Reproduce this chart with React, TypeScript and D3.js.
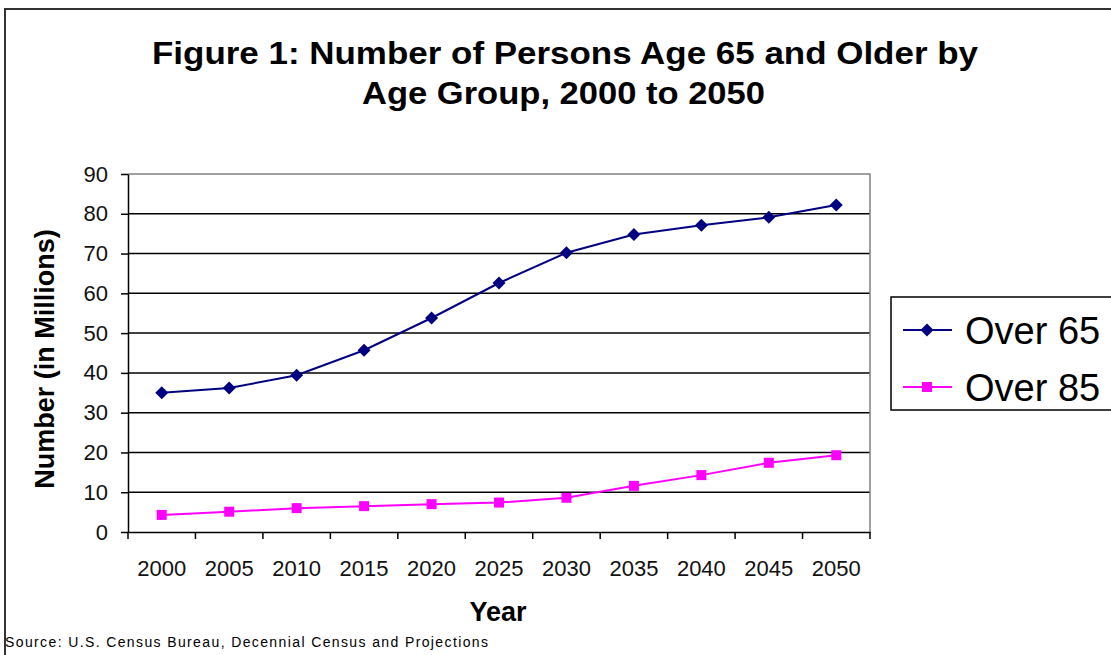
import * as d3 from 'd3';
import { useEffect, useRef } from 'react';

const years = ['2000', '2005', '2010', '2015', '2020', '2025', '2030', '2035', '2040', '2045', '2050'];
const over65 = [35.0, 36.2, 39.4, 45.7, 53.8, 62.6, 70.2, 74.8, 77.1, 79.1, 82.2];
const over85 = [4.3, 5.1, 6.0, 6.5, 7.0, 7.4, 8.6, 11.6, 14.3, 17.4, 19.3];
const yTicks = [0, 10, 20, 30, 40, 50, 60, 70, 80, 90];

const seriesNames = ['Over 65', 'Over 85'];
const seriesColors = ['#000080', '#ff00ff'];

const FONT = '"Liberation Sans", Arial, sans-serif';

export default function App() {
  const ref = useRef<SVGSVGElement | null>(null);

  useEffect(() => {
    if (!ref.current) return;
    const svg = d3.select(ref.current);
    svg.selectAll('*').remove();

    const width = 1111;
    const height = 655;
    const plot = { left: 128, right: 870, top: 174, bottom: 532 };

    svg.append('rect').attr('width', width).attr('height', height).attr('fill', '#fff');

    // outer chart frame (runs off the right and bottom edges)
    svg.append('rect')
      .attr('x', 5).attr('y', 9)
      .attr('width', 1120).attr('height', 670)
      .attr('fill', 'none').attr('stroke', '#333').attr('stroke-width', 2);

    const x = d3.scaleBand<string>().domain(years).range([plot.left, plot.right]).padding(0);
    const y = d3.scaleLinear().domain([0, 90]).range([plot.bottom, plot.top]);
    const cx = (d: string) => x(d)! + x.bandwidth() / 2;

    // gridlines
    svg.append('g')
      .selectAll('line')
      .data(yTicks.filter((t) => t > 0 && t < 90))
      .join('line')
      .attr('x1', plot.left).attr('x2', plot.right)
      .attr('y1', (d) => y(d)).attr('y2', (d) => y(d))
      .attr('stroke', '#000').attr('stroke-width', 1.5);

    // plot area border (top/right gray)
    svg.append('path')
      .attr('d', `M${plot.left},${plot.top}H${plot.right}V${plot.bottom}`)
      .attr('fill', 'none').attr('stroke', '#808080').attr('stroke-width', 1.5);

    // Y axis
    const yAxis = svg.append('g')
      .attr('transform', `translate(${plot.left},0)`)
      .call(d3.axisLeft(y).tickValues(yTicks).tickSize(7).tickPadding(13).tickSizeOuter(0));
    yAxis.select('.domain').attr('stroke', '#000').attr('stroke-width', 1.5);
    yAxis.selectAll('line').attr('stroke', '#000').attr('stroke-width', 1.5);
    yAxis.selectAll('text')
      .style('font-family', FONT).style('font-size', '22px').attr('fill', '#111');

    // X axis: labels centered in each band, ticks on band boundaries
    const xAxis = svg.append('g')
      .attr('transform', `translate(0,${plot.bottom})`)
      .call(d3.axisBottom(x).tickSize(0).tickPadding(28).tickSizeOuter(0));
    xAxis.select('.domain').attr('stroke', '#000').attr('stroke-width', 1.5);
    xAxis.selectAll('text')
      .style('font-family', FONT).style('font-size', '22px').attr('fill', '#111');
    xAxis.selectAll('line.boundary')
      .data([...years.map((d) => x(d)!), plot.right])
      .join('line')
      .attr('class', 'boundary')
      .attr('x1', (d) => d).attr('x2', (d) => d)
      .attr('y1', 0).attr('y2', 7)
      .attr('stroke', '#000').attr('stroke-width', 1.5);

    // series lines + markers
    const line = d3.line<number>().x((_, i) => cx(years[i])).y((d) => y(d));
    [over65, over85].forEach((vals, si) => {
      svg.append('path')
        .datum(vals)
        .attr('d', line)
        .attr('fill', 'none')
        .attr('stroke', seriesColors[si])
        .attr('stroke-width', 2);
    });

    const diamond = (s: number) => `M0,${-s}L${s},0L0,${s}L${-s},0Z`;
    svg.append('g')
      .selectAll('path')
      .data(over65)
      .join('path')
      .attr('transform', (d, i) => `translate(${cx(years[i])},${y(d)})`)
      .attr('d', diamond(6.5))
      .attr('fill', seriesColors[0]);

    svg.append('g')
      .selectAll('rect')
      .data(over85)
      .join('rect')
      .attr('x', (d, i) => cx(years[i]) - 5)
      .attr('y', (d) => y(d) - 5)
      .attr('width', 10).attr('height', 10)
      .attr('fill', seriesColors[1]);

    // title
    const title = svg.append('g')
      .style('font-family', FONT).style('font-weight', 'bold').attr('fill', '#000');
    title.append('text')
      .attr('x', 152).attr('y', 64)
      .attr('textLength', 826).attr('lengthAdjust', 'spacingAndGlyphs')
      .style('font-size', '31px')
      .text('Figure 1: Number of Persons Age 65 and Older by');
    title.append('text')
      .attr('x', 362).attr('y', 104)
      .attr('textLength', 403).attr('lengthAdjust', 'spacingAndGlyphs')
      .style('font-size', '31px')
      .text('Age Group, 2000 to 2050');

    // axis titles
    svg.append('text')
      .attr('transform', 'translate(54,359) rotate(-90)')
      .attr('text-anchor', 'middle')
      .style('font-family', FONT).style('font-weight', 'bold').style('font-size', '27px')
      .text('Number (in Millions)');
    svg.append('text')
      .attr('x', 498).attr('y', 621)
      .attr('text-anchor', 'middle')
      .style('font-family', FONT).style('font-weight', 'bold').style('font-size', '27px')
      .text('Year');

    // legend
    svg.append('rect')
      .attr('x', 891).attr('y', 297)
      .attr('width', 240).attr('height', 113)
      .attr('fill', '#fff').attr('stroke', '#000').attr('stroke-width', 1.5);
    const legendY = [330, 387];
    seriesNames.forEach((name, i) => {
      const g = svg.append('g').attr('transform', `translate(0,${legendY[i]})`);
      g.append('line')
        .attr('x1', 903).attr('x2', 952)
        .attr('stroke', seriesColors[i]).attr('stroke-width', 2);
      if (i === 0) {
        g.append('path').attr('transform', 'translate(927,0)').attr('d', diamond(6.5)).attr('fill', seriesColors[i]);
      } else {
        g.append('rect').attr('x', 922).attr('y', -5).attr('width', 10).attr('height', 10).attr('fill', seriesColors[i]);
      }
      g.append('text')
        .attr('x', 965).attr('y', 14)
        .style('font-family', FONT).style('font-size', '38px')
        .text(name);
    });

    // source note
    svg.append('text')
      .attr('x', 5).attr('y', 647)
      .attr('textLength', 483).attr('lengthAdjust', 'spacing')
      .style('font-family', FONT).style('font-size', '14px')
      .text('Source: U.S. Census Bureau, Decennial Census and Projections');
  }, []);

  return (
    <svg
      ref={ref}
      width={1111}
      height={655}
      style={{ position: 'fixed', left: 0, top: 0, display: 'block' }}
    />
  );
}
